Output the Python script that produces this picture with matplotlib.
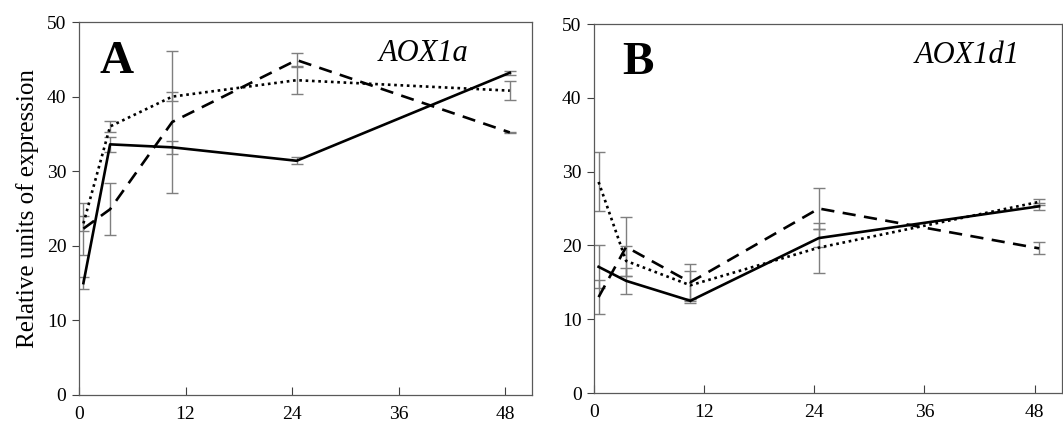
import matplotlib.pyplot as plt

plt.rcParams['font.family'] = ['Liberation Serif', 'DejaVu Serif']

# tempos de coleta (h)
horas = [0.5, 3.5, 10.5, 24.5, 48.5]
ticks_x = [0, 12, 24, 36, 48]
ticks_y = [0, 10, 20, 30, 40, 50]

# painel A - AOX1a
a_solida = [15.0, 33.6, 33.2, 31.4, 43.2]
a_solida_err = [0.8, 1.05, 0.9, 0.5, 0.3]
a_tracejada = [22.3, 24.9, 36.6, 44.9, 35.2]
a_tracejada_err = [3.5, 3.5, 9.5, 0.9, 0.1]
a_pontilhada = [23.0, 36.0, 40.0, 42.2, 40.8]
a_pontilhada_err = [1.0, 0.7, 0.6, 1.85, 1.3]

# painel B - AOX1d1
b_solida = [17.1, 15.2, 12.5, 21.0, 25.3]
b_solida_err = [2.9, 1.8, 0.3, 1.2, 0.5]
b_tracejada = [13.0, 19.8, 15.0, 25.0, 19.6]
b_tracejada_err = [2.3, 4.0, 2.5, 2.8, 0.8]
b_pontilhada = [28.6, 17.9, 14.6, 19.7, 25.9]
b_pontilhada_err = [4.0, 2.0, 1.9, 3.4, 0.4]

paineis = [
    ('A', 'AOX1a', a_solida, a_solida_err, a_tracejada, a_tracejada_err, a_pontilhada, a_pontilhada_err),
    ('B', 'AOX1d1', b_solida, b_solida_err, b_tracejada, b_tracejada_err, b_pontilhada, b_pontilhada_err),
]

fig = plt.figure(figsize=(10.63, 4.30), dpi=100)
ax1 = fig.add_axes([0.0743, 0.0814, 0.4262, 0.8674])
ax2 = fig.add_axes([0.5588, 0.0860, 0.4403, 0.8581])

# posicoes dos rotulos (fracao do eixo)
pos_letra = [0.046, 0.060]
pos_gene = [0.86, 0.91]

cinza = '#7f7f7f'
for i, (ax, (letra, gene, sol, sol_e, tr, tr_e, pt, pt_e)) in enumerate(zip([ax1, ax2], paineis)):
    ekw = dict(ecolor=cinza, elinewidth=1.0, capsize=4, capthick=1.0, zorder=1)
    ax.errorbar(horas, sol, yerr=sol_e, fmt='none', **ekw)
    ax.errorbar(horas, tr, yerr=tr_e, fmt='none', **ekw)
    ax.errorbar(horas, pt, yerr=pt_e, fmt='none', **ekw)

    ax.plot(horas, sol, color='black', lw=1.9, zorder=3)
    ax.plot(horas, tr, color='black', lw=1.9, dashes=(5.0, 3.2), zorder=3)
    ax.plot(horas, pt, color='black', lw=1.9, dashes=(1.0, 1.4), zorder=3)

    ax.set_xlim(0, 51)
    ax.set_ylim(0, 50)
    ax.set_xticks(ticks_x)
    ax.set_yticks(ticks_y)
    ax.tick_params(axis='x', direction='in', length=6, width=0.8, color='#404040',
                   labelsize=14, pad=8)
    ax.tick_params(axis='y', direction='out', length=5, width=0.8, color='#404040',
                   labelsize=14, pad=4)
    for s in ax.spines.values():
        s.set_color('#595959')
        s.set_linewidth(0.9)

    ax.text(pos_letra[i], 0.95, letra, transform=ax.transAxes, fontsize=34, fontweight='bold',
            va='top', ha='left')
    ax.text(pos_gene[i], 0.955, gene, transform=ax.transAxes, fontsize=22, style='italic',
            va='top', ha='right')

ax1.set_ylabel('Relative units of expression', fontsize=18, labelpad=6)

fig.savefig('out.png', dpi=100)
